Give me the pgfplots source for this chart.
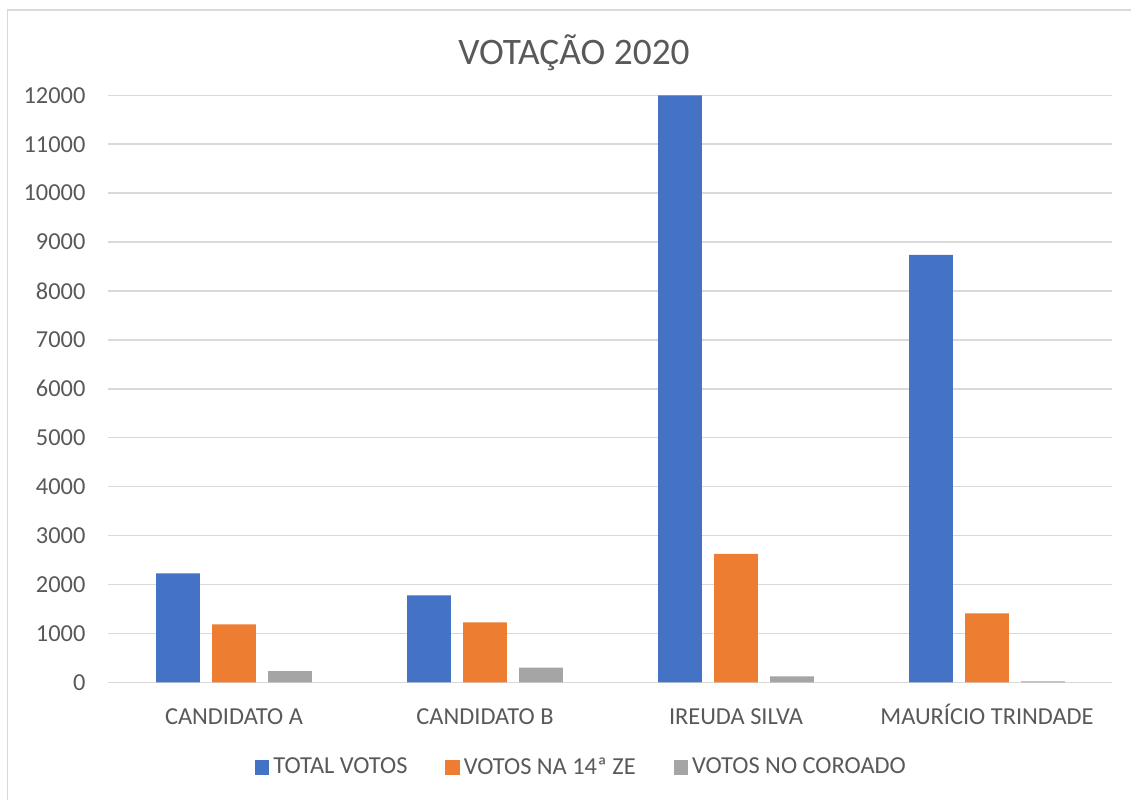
\documentclass[border=0pt]{standalone}
\usepackage{pgfplots}
\pgfplotsset{compat=1.18}
\usepackage{fontspec}
\setmainfont{Carlito}
\definecolor{cblue}{HTML}{4472C4}
\definecolor{corange}{HTML}{ED7D31}
\definecolor{cgray}{HTML}{A5A5A5}
\definecolor{gridc}{HTML}{D9D9D9}
\definecolor{txtc}{HTML}{595959}
\begin{document}
\begin{tikzpicture}
\begin{axis}[
  name=ax,
  scale only axis, width=502pt, height=293.5pt,
  xmin=-0.5, xmax=3.5, ymin=0, ymax=12000,
  ytick={0,1000,...,12000},
  xtick={0,1,2,3},
  xticklabels={CANDIDATO A, CANDIDATO B, IREUDA SILVA, MAURÍCIO TRINDADE},
  ymajorgrids,
  grid style={gridc, line width=0.75pt},
  axis line style={draw=none},
  tick style={draw=none},
  scaled y ticks=false,
  /pgf/number format/1000 sep={},
  /pgf/number format/assume math mode=true,
  ticklabel style={text=txtc, font=\fontsize{12.2}{14}\selectfont},
  yticklabel style={xshift=-8pt},
  xticklabel style={yshift=-5pt, text height=8.5pt, text depth=2.5pt},
  ybar, bar width=0.175,
  legend style={at={(0.472,-0.145)}, anchor=center, draw=none, legend columns=3,
    font=\fontsize{12.2}{14}\selectfont, text=txtc,
    /tikz/every even column/.append style={column sep=17pt}},
  legend image code/.code={\fill[#1] (0.5pt,-3.6pt) rectangle (7.7pt,3.6pt);},
  clip=false,
]
\addplot[fill=cblue, draw=none, bar shift=-0.223] coordinates {(0,2229) (1,1779) (2,12000) (3,8738)};
\addplot[fill=corange, draw=none, bar shift=0] coordinates {(0,1186) (1,1227) (2,2624) (3,1411)};
\addplot[fill=cgray, draw=none, bar shift=0.223] coordinates {(0,231) (1,299) (2,123) (3,20)};
\legend{TOTAL VOTOS, VOTOS NA 14ª ZE, VOTOS NO COROADO}
\end{axis}
\coordinate (O) at ([shift={(-54.25pt,-58.85pt)}]ax.south west);
\pgfresetboundingbox
\path[use as bounding box] (O) rectangle ++(565.5pt,400pt);
\draw[gridc, line width=0.75pt] ([shift={(3.75pt,0pt)}]O) -- ++(0pt,395pt) -- ++(561.75pt,0pt);
\node[text=txtc, font=\fontsize{18.7}{22}\selectfont] at ([shift={(287pt,373.5pt)}]O) {VOTAÇÃO 2020};
\end{tikzpicture}
\end{document}
